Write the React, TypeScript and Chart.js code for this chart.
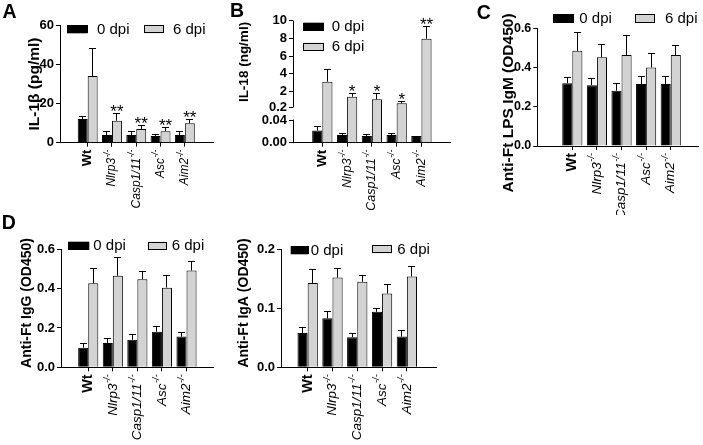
import React, { useEffect, useRef } from 'react';
import { Chart, registerables } from 'chart.js';
Chart.register(...registerables);

const FONT = '"Liberation Sans", Arial, Helvetica, sans-serif';
const GRAY = '#d3d3d3';

const genotypes = ['Wt', 'Nlrp3', 'Casp1/11', 'Asc', 'Aim2'];
const genotypeKO = [false, true, true, true, true];
const seriesNames = ['0 dpi', '6 dpi'];

// Panel A: IL-1β (pg/ml)
const il1b0 = [12.1, 3.9, 3.9, 3.4, 3.9];
const il1b0Err = [13.8, 5.9, 5.9, 4.4, 5.9];
const il1b6 = [34.0, 11.2, 7.0, 5.9, 9.9];
const il1b6Err = [48.1, 15.3, 9.0, 8.0, 11.9];
const il1bStars = ['', '**', '**', '**', '**'];
const il1bTicks = [0, 20, 40, 60];
const il1bTickLabels = ['0', '20', '40', '60'];

// Panel B: IL-18 (ng/ml), broken axis
const il180 = [0.022, 0.014, 0.012, 0.014, 0.012];
const il180Err = [0.03, 0.018, 0.016, 0.018, 0.013];
const il186 = [3.1, 1.4, 1.1, 0.65, 7.96];
const il186Err = [4.5, 1.85, 1.78, 0.95, 9.4];
const il18Stars = ['', '*', '*', '*', '**'];
const il18Ticks = [0, 0.04, 0.2, 2, 4, 6, 8, 10];
const il18TickLabels = ['0.00', '0.04', '0.2', '2', '4', '6', '8', '10'];
const il18LowTop = 0.042;
const il18HighBottom = 0.2;
const il18HighTop = 10;

// Panel C: Anti-Ft LPS IgM
const igm0 = [0.32, 0.31, 0.282, 0.316, 0.316];
const igm0Err = [0.354, 0.345, 0.32, 0.359, 0.359];
const igm6 = [0.485, 0.452, 0.464, 0.4, 0.464];
const igm6Err = [0.583, 0.52, 0.566, 0.476, 0.517];

// Panel D: Anti-Ft IgG
const igg0 = [0.1, 0.124, 0.14, 0.181, 0.156];
const igg0Err = [0.122, 0.148, 0.17, 0.21, 0.178];
const igg6 = [0.427, 0.465, 0.448, 0.405, 0.492];
const igg6Err = [0.504, 0.56, 0.492, 0.47, 0.543];

// Panel D: Anti-Ft IgA
const iga0 = [0.058, 0.083, 0.051, 0.094, 0.052];
const iga0Err = [0.068, 0.095, 0.058, 0.1, 0.063];
const iga6 = [0.143, 0.152, 0.145, 0.125, 0.154];
const iga6Err = [0.167, 0.168, 0.157, 0.142, 0.172];

const odTicks06 = [0, 0.2, 0.4, 0.6];
const odTickLabels06 = ['0.0', '0.2', '0.4', '0.6'];
const odTicks02 = [0, 0.1, 0.2];
const odTickLabels02 = ['0.0', '0.1', '0.2'];

// broken-axis transform for IL-18 (two linear segments of one axis)
const il18Axis = (v: number) => (v <= 0.1 ? v * 550 : 35.4 + (v - 0.2) * 8.84);
const identity = (v: number) => v;

type Leg = { x: number; y: number; w: number; h: number; tx: number };
type Panel = {
  left: number; top: number; w: number; h: number;
  yAxisW: number; padTop: number; padRight: number; xAxisH: number;
  xMin: number; xMax: number; yMin: number; yMax: number;
  ticks: number[]; tickLabels: string[]; tickSize: number;
  v0: number[]; e0: number[]; v6: number[]; e6: number[]; stars?: string[];
  map: (v: number) => number; broken?: boolean;
  title: string; titleX: number; titleY: number; titleSize: number;
  legend: Leg[]; legendSize: number;
  letter?: string; letterX?: number; letterY?: number;
  xLabelSize: number; labelGap: number;
};

const panels: Panel[] = [
  {
    left: 0, top: 0, w: 230, h: 215, yAxisW: 60, padTop: 25, padRight: 17, xAxisH: 72.3,
    xMin: -0.51, xMax: 4.53, yMin: 0, yMax: 60, ticks: il1bTicks, tickLabels: il1bTickLabels, tickSize: 13,
    v0: il1b0, e0: il1b0Err, v6: il1b6, e6: il1b6Err, stars: il1bStars, map: identity,
    title: 'IL-1β (pg/ml)', titleX: 35, titleY: 84, titleSize: 15.5,
    legend: [{ x: 67, y: 25, w: 20.5, h: 8.3, tx: 97 }, { x: 144, y: 25, w: 20, h: 8.3, tx: 173 }], legendSize: 15,
    letter: 'A', letterX: 2.5, letterY: 17.5, xLabelSize: 12, labelGap: 7,
  },
  {
    left: 230, top: 0, w: 230, h: 215, yAxisW: 63, padTop: 20.7, padRight: 10, xAxisH: 72.3,
    xMin: -0.55, xMax: 4.52, yMin: 0, yMax: il18Axis(il18HighTop), ticks: il18Ticks, tickLabels: il18TickLabels, tickSize: 13,
    v0: il180, e0: il180Err, v6: il186, e6: il186Err, stars: il18Stars, map: il18Axis, broken: true,
    title: 'IL-18 (ng/ml)', titleX: 14.5, titleY: 62, titleSize: 13.5,
    legend: [{ x: 73.3, y: 22.7, w: 20.7, h: 8, tx: 101.7 }, { x: 73.3, y: 42.7, w: 20.7, h: 8, tx: 101.7 }], legendSize: 15,
    letter: 'B', letterX: 0, letterY: 16.7, xLabelSize: 12.5, labelGap: 7,
  },
  {
    left: 460, top: 0, w: 243, h: 215, yAxisW: 77.3, padTop: 28.3, padRight: 5, xAxisH: 69,
    xMin: -0.77, xMax: 4.455, yMin: 0, yMax: 0.6, ticks: odTicks06, tickLabels: odTickLabels06, tickSize: 12.5,
    v0: igm0, e0: igm0Err, v6: igm6, e6: igm6Err, map: identity,
    title: 'Anti-Ft LPS IgM (OD450)', titleX: 48.5, titleY: 103, titleSize: 15.5,
    legend: [{ x: 93.3, y: 14, w: 20.7, h: 8.7, tx: 119.3 }, { x: 175, y: 14, w: 20, h: 8.7, tx: 205 }], legendSize: 15,
    letter: 'C', letterX: 16.7, letterY: 19.3, xLabelSize: 13.5, labelGap: 7,
  },
  {
    left: 0, top: 215, w: 228, h: 230, yAxisW: 61, padTop: 34.3, padRight: 15, xAxisH: 77.7,
    xMin: -0.49, xMax: 4.46, yMin: 0, yMax: 0.6, ticks: odTicks06, tickLabels: odTickLabels06, tickSize: 13,
    v0: igg0, e0: igg0Err, v6: igg6, e6: igg6Err, map: identity,
    title: 'Anti-Ft IgG (OD450)', titleX: 27, titleY: 88, titleSize: 14,
    legend: [{ x: 68.3, y: 26.7, w: 21, h: 8.3, tx: 93.3 }, { x: 147.7, y: 26.7, w: 19, h: 8.3, tx: 171.7 }], legendSize: 15,
    letter: 'D', letterX: 1.7, letterY: 14.3, xLabelSize: 13.5, labelGap: 7,
  },
  {
    left: 228, top: 215, w: 212, h: 230, yAxisW: 53, padTop: 34.3, padRight: 4, xAxisH: 77.7,
    xMin: -0.45, xMax: 4.55, yMin: 0, yMax: 0.2, ticks: odTicks02, tickLabels: odTickLabels02, tickSize: 13,
    v0: iga0, e0: iga0Err, v6: iga6, e6: iga6Err, map: identity,
    title: 'Anti-Ft IgA (OD450)', titleX: 16.5, titleY: 88, titleSize: 14,
    legend: [{ x: 62.7, y: 31, w: 17.6, h: 8.3, tx: 82.7 }, { x: 143.7, y: 30, w: 20, h: 8.3, tx: 169.3 }], legendSize: 15,
    xLabelSize: 13.5, labelGap: 7,
  },
];

const al = (v: number) => Math.round(v - 0.5) + 0.5;

function makePlugin(p: Panel) {
  return {
    id: 'panelDecor',
    afterDraw(chart: any) {
      const ctx: CanvasRenderingContext2D = chart.ctx;
      const xs = chart.scales.x;
      const ys = chart.scales.y;
      const ca = chart.chartArea;
      ctx.save();
      ctx.strokeStyle = '#000';
      ctx.fillStyle = '#000';
      ctx.lineWidth = 1;

      // broken y axis segments
      if (p.broken) {
        const ax = al(ca.left);
        ctx.beginPath();
        ctx.moveTo(ax, ys.getPixelForValue(p.map(0)) + 0.5);
        ctx.lineTo(ax, ys.getPixelForValue(p.map(il18LowTop)));
        ctx.moveTo(ax, ys.getPixelForValue(p.map(il18HighBottom)));
        ctx.lineTo(ax, ys.getPixelForValue(p.map(il18HighTop)));
        ctx.stroke();
      }

      // error bars (upward)
      const errs = [p.e0, p.e6];
      errs.forEach((arr, di) => {
        const meta = chart.getDatasetMeta(di);
        meta.data.forEach((bar: any, i: number) => {
          const x = al(bar.x);
          const yE = Math.round(ys.getPixelForValue(p.map(arr[i]))) + 0.5;
          ctx.beginPath();
          ctx.moveTo(x, bar.y);
          ctx.lineTo(x, yE);
          ctx.moveTo(x - 3.5, yE);
          ctx.lineTo(x + 3.5, yE);
          ctx.stroke();
        });
      });

      // significance stars
      if (p.stars) {
        const meta = chart.getDatasetMeta(1);
        ctx.font = `17px ${FONT}`;
        ctx.textAlign = 'center';
        ctx.textBaseline = 'alphabetic';
        p.stars.forEach((s, i) => {
          if (!s) return;
          const bar = meta.data[i];
          const yE = ys.getPixelForValue(p.map(p.e6[i]));
          ctx.fillText(s, bar.x, yE + 4);
        });
      }

      // x tick marks and rotated genotype labels
      genotypes.forEach((g, i) => {
        const x = xs.getPixelForValue(i);
        ctx.beginPath();
        ctx.moveTo(al(x), ca.bottom);
        ctx.lineTo(al(x), ca.bottom + 4);
        ctx.stroke();
        ctx.save();
        ctx.translate(x, ca.bottom + p.labelGap);
        ctx.rotate(-Math.PI / 2);
        ctx.textBaseline = 'middle';
        ctx.textAlign = 'right';
        const f = p.xLabelSize;
        if (!genotypeKO[i]) {
          ctx.font = `bold ${f + 1}px ${FONT}`;
          ctx.fillText(g, 0, 0);
        } else {
          const sf = f * 0.68;
          ctx.font = `italic ${sf}px ${FONT}`;
          const sup = '-/-';
          const sw = ctx.measureText(sup).width;
          ctx.fillText(sup, 0, -f * 0.38);
          ctx.font = `italic ${f}px ${FONT}`;
          ctx.fillText(g, -sw - 0.5, 0);
        }
        ctx.restore();
      });

      // y title
      ctx.save();
      ctx.translate(p.titleX, p.titleY);
      ctx.rotate(-Math.PI / 2);
      ctx.font = `bold ${p.titleSize}px ${FONT}`;
      ctx.textAlign = 'center';
      ctx.textBaseline = 'middle';
      ctx.fillText(p.title, 0, 0);
      ctx.restore();

      // legend
      p.legend.forEach((l, i) => {
        ctx.fillStyle = i === 0 ? '#000' : GRAY;
        ctx.fillRect(l.x, l.y, l.w, l.h);
        ctx.strokeStyle = '#000';
        ctx.strokeRect(Math.round(l.x) + 0.5, Math.round(l.y) + 0.5, Math.round(l.w) - 1, Math.round(l.h) - 1);
        ctx.fillStyle = '#000';
        ctx.font = `${p.legendSize}px ${FONT}`;
        ctx.textAlign = 'left';
        ctx.textBaseline = 'middle';
        ctx.fillText(seriesNames[i], l.tx, l.y + l.h / 2 + 0.5);
      });

      // panel letter
      if (p.letter) {
        ctx.font = `bold 19.5px ${FONT}`;
        ctx.textAlign = 'left';
        ctx.textBaseline = 'alphabetic';
        ctx.fillText(p.letter, p.letterX!, p.letterY!);
      }
      ctx.restore();
    },
  };
}

function buildConfig(p: Panel): any {
  const ds = (vals: number[], color: string, label: string) => ({
    label,
    data: vals.map((v, i) => ({ x: i, y: p.map(v) })),
    backgroundColor: color,
    borderColor: '#000',
    borderWidth: 1,
    categoryPercentage: 0.82,
    barPercentage: 1,
  });
  return {
    type: 'bar',
    data: { datasets: [ds(p.v0, '#000', seriesNames[0]), ds(p.v6, GRAY, seriesNames[1])] },
    options: {
      animation: false,
      responsive: false,
      maintainAspectRatio: false,
      devicePixelRatio: 1,
      layout: { autoPadding: false, padding: { top: p.padTop, right: p.padRight, left: 0, bottom: 0 } },
      plugins: { legend: { display: false }, tooltip: { enabled: false }, title: { display: false } },
      scales: {
        x: {
          type: 'linear',
          min: p.xMin,
          max: p.xMax,
          afterBuildTicks: (s: any) => { s.ticks = genotypes.map((_, i) => ({ value: i })); },
          ticks: { display: false },
          grid: { display: false },
          border: { display: true, color: '#000', width: 1 },
          afterFit: (s: any) => { s.height = p.xAxisH; s.paddingLeft = 0; s.paddingRight = 0; },
        },
        y: {
          type: 'linear',
          min: p.yMin,
          max: p.yMax,
          afterBuildTicks: (s: any) => { s.ticks = p.ticks.map((v) => ({ value: p.map(v) })); },
          ticks: {
            autoSkip: false,
            color: '#000',
            padding: 2,
            font: { family: FONT, size: p.tickSize, weight: 'bold' },
            callback: (_v: any, idx: number) => p.tickLabels[idx],
          },
          grid: { display: true, drawOnChartArea: false, drawTicks: true, tickLength: 4, color: '#000', lineWidth: 1 },
          border: { display: !p.broken, color: '#000', width: 1 },
          afterFit: (s: any) => { s.width = p.yAxisW; s.paddingTop = 0; s.paddingBottom = 0; },
        },
      },
    },
    plugins: [makePlugin(p)],
  };
}

function PanelChart({ p }: { p: Panel }) {
  const ref = useRef<HTMLCanvasElement>(null);
  useEffect(() => {
    const chart = new Chart(ref.current as HTMLCanvasElement, buildConfig(p));
    return () => chart.destroy();
  }, [p]);
  return (
    <canvas
      ref={ref}
      width={p.w}
      height={p.h}
      style={{ position: 'absolute', left: p.left, top: p.top, width: p.w, height: p.h, display: 'block' }}
    />
  );
}

export default function App() {
  return (
    <div style={{ position: 'fixed', left: 0, top: 0, width: 703, height: 445, background: '#fff', overflow: 'hidden' }}>
      {panels.map((p, i) => (
        <PanelChart key={i} p={p} />
      ))}
    </div>
  );
}
